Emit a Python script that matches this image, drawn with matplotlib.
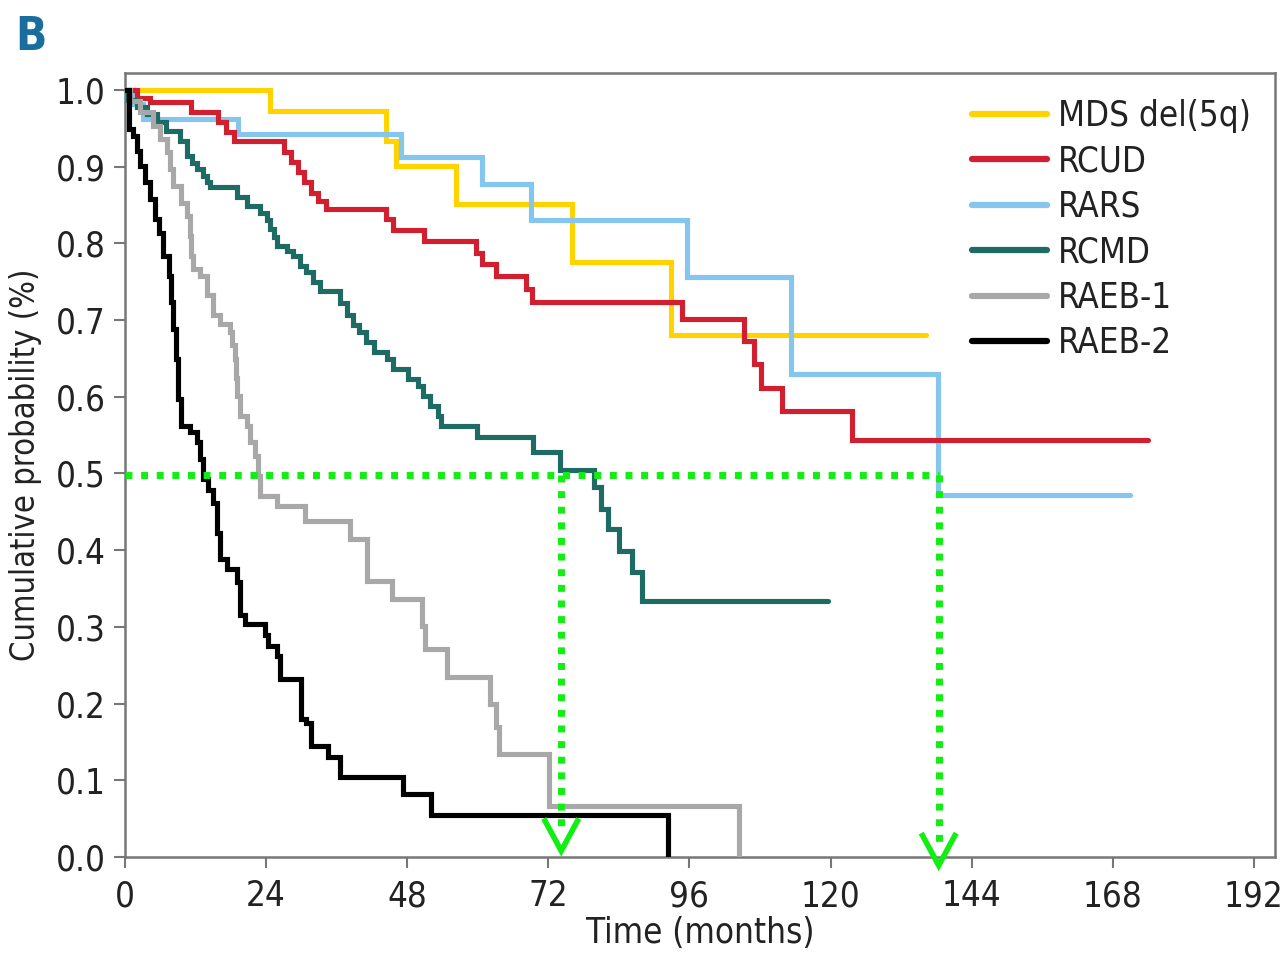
import matplotlib
matplotlib.use('Agg')
import matplotlib.pyplot as plt
from matplotlib import font_manager
from matplotlib.lines import Line2D

# pick a narrow sans if one is installed (the original uses a condensed face)
fonts = font_manager.fontManager.ttflist
names = {f.name for f in fonts}
if 'Liberation Sans Narrow' in names:
    plt.rcParams['font.family'] = ['Liberation Sans Narrow', 'DejaVu Sans']
elif any(f.name == 'DejaVu Sans' and f.stretch == 'condensed' for f in fonts):
    plt.rcParams['font.family'] = ['DejaVu Sans']
    plt.rcParams['font.stretch'] = 'condensed'
else:
    plt.rcParams['font.family'] = ['Liberation Sans', 'DejaVu Sans']

# Kaplan-Meier style step curves (time in months, cumulative probability)
mds_t = [0, 24.6, 44.4, 46.1, 56.3, 76.1, 92.8, 136.3]
mds_s = [1.0, 0.973, 0.934, 0.901, 0.851, 0.775, 0.680, 0.680]

rars_t = [0, 1.5, 3.0, 19.2, 47.0, 60.8, 69.0, 95.6, 113.3, 138.3, 170.9]
rars_s = [1.0, 0.981, 0.962, 0.943, 0.913, 0.877, 0.830, 0.756, 0.630, 0.472, 0.472]

rcud_t = [0, 2.0, 4.2, 11.3, 15.8, 17.2, 18.6, 27.0, 28.2, 29.4, 30.5, 31.6, 32.8,
          34.2, 44.4, 45.6, 50.9, 59.7, 60.8, 63.1, 68.2, 69.3, 94.8, 105.3, 107.0,
          108.1, 111.8, 123.7, 174.0]
rcud_s = [1.0, 0.99, 0.984, 0.971, 0.958, 0.945, 0.934, 0.919, 0.906, 0.893, 0.880,
          0.866, 0.855, 0.845, 0.832, 0.817, 0.803, 0.788, 0.773, 0.757, 0.740, 0.723,
          0.701, 0.672, 0.643, 0.612, 0.582, 0.544, 0.544]

rcmd_t = [0, 0.5, 2.0, 3.7, 5.4, 7.0, 9.3, 10.5, 11.4, 12.2, 13.2, 13.9, 14.4, 19.0,
          20.7, 22.9, 24.1, 24.6, 25.3, 25.8, 27.5, 28.6, 29.7, 30.8, 32.0, 33.1, 36.5,
          37.8, 38.8, 39.8, 41.0, 42.4, 44.5, 45.6, 48.1, 49.8, 50.7, 51.9, 53.3, 53.8,
          59.8, 69.4, 74.0, 79.8, 80.9, 82.1, 84.0, 86.3, 88.0, 119.5]
rcmd_s = [1.0, 0.987, 0.978, 0.968, 0.958, 0.947, 0.933, 0.914, 0.905, 0.897, 0.888,
          0.880, 0.873, 0.860, 0.849, 0.840, 0.830, 0.819, 0.808, 0.797, 0.790, 0.784,
          0.771, 0.762, 0.749, 0.738, 0.722, 0.706, 0.693, 0.684, 0.671, 0.658, 0.649,
          0.636, 0.623, 0.614, 0.601, 0.588, 0.575, 0.562, 0.547, 0.528, 0.504, 0.482,
          0.454, 0.428, 0.399, 0.371, 0.334, 0.334]

raeb1_t = [0, 0.8, 2.5, 4.8, 5.9, 7.1, 7.6, 8.2, 9.6, 10.5, 11.0, 11.3, 11.6, 12.7,
           13.9, 15.0, 16.1, 17.8, 18.2, 18.7, 18.9, 19.0, 19.5, 20.7, 21.2, 22.1, 22.6,
           22.9, 25.8, 30.6, 38.2, 41.1, 45.4, 50.6, 51.0, 54.8, 62.0, 63.1, 63.6, 72.2,
           104.4]
raeb1_s = [1.0, 0.985, 0.971, 0.953, 0.936, 0.919, 0.897, 0.875, 0.853, 0.836, 0.810,
           0.784, 0.767, 0.758, 0.732, 0.706, 0.695, 0.684, 0.667, 0.649, 0.625, 0.601,
           0.575, 0.562, 0.541, 0.523, 0.497, 0.471, 0.458, 0.438, 0.415, 0.360, 0.336,
           0.301, 0.271, 0.234, 0.200, 0.169, 0.134, 0.067, 0.0]

raeb2_t = [0, 0.6, 1.4, 2.0, 2.5, 3.4, 4.2, 5.1, 5.7, 6.5, 7.4, 7.9, 8.2, 8.6, 9.0,
           9.6, 11.0, 12.2, 12.7, 13.3, 14.1, 15.0, 15.6, 16.1, 17.3, 19.0, 19.5, 20.4,
           23.8, 24.3, 25.8, 26.3, 30.0, 30.8, 31.7, 34.5, 36.5, 47.3, 52.1, 92.3]
raeb2_s = [1.0, 0.949, 0.940, 0.920, 0.901, 0.880, 0.858, 0.832, 0.814, 0.784, 0.758,
           0.723, 0.688, 0.649, 0.597, 0.562, 0.554, 0.541, 0.519, 0.493, 0.478, 0.462,
           0.423, 0.389, 0.375, 0.358, 0.315, 0.304, 0.289, 0.275, 0.262, 0.232, 0.180,
           0.175, 0.145, 0.130, 0.104, 0.082, 0.055, 0.0]

labels = ['MDS del(5q)', 'RCUD', 'RARS', 'RCMD', 'RAEB-1', 'RAEB-2']
colors = ['#FFD200', '#D21F30', '#84C6EE', '#1E6B63', '#A8A8A8', '#000000']

# median survival markers
median_level = 0.498
median_times = [74.2, 138.4]
green = '#11EE11'

fig = plt.figure(figsize=(12.87, 9.59), dpi=100)
ax = fig.add_axes([125 / 1287, 102 / 959, 1150 / 1287, 784 / 959])

curves = [(mds_t, mds_s, 0), (rars_t, rars_s, 2), (rcud_t, rcud_s, 1),
          (rcmd_t, rcmd_s, 3), (raeb1_t, raeb1_s, 4), (raeb2_t, raeb2_s, 5)]
for t, s, i in curves:
    ax.step(t, s, where='post', color=colors[i], lw=3.7, solid_capstyle='round',
            solid_joinstyle='miter', zorder=3)

# dotted guide lines + arrow heads
ax.plot([0, median_times[1]], [median_level, median_level], color=green, lw=5,
        linestyle=(0, (1, 1.25)), zorder=5)
tips = [0.008, -0.011]
for mt, tip in zip(median_times, tips):
    ax.plot([mt, mt], [median_level, tip + 0.03], color=green, lw=5,
            linestyle=(0, (1, 1.25)), zorder=5, clip_on=False)
    ax.plot([mt - 2.75, mt, mt + 2.75], [tip + 0.039, tip, tip + 0.039], color=green,
            lw=4, solid_joinstyle='miter', zorder=6, clip_on=False)

ax.set_xlim(0, 195.6)
ax.set_ylim(0, 1.022)
ax.set_xticks(range(0, 193, 24))
ax.set_yticks([i / 10 for i in range(11)])
ax.set_yticklabels([f'{i / 10:.1f}' for i in range(11)])
ax.tick_params(direction='out', length=8, width=1.5, color='#777777',
               labelsize=25, labelcolor='#222222')
ax.tick_params(axis='x', pad=8)
ax.tick_params(axis='y', pad=6)
for sp in ax.spines.values():
    sp.set_color('#777777')
    sp.set_linewidth(1.8)

ax.set_xlabel('Time (months)', fontsize=25, color='#222222', labelpad=2)
ax.set_ylabel('Cumulative probability (%)', fontsize=23.5, color='#222222', labelpad=10)

handles = [Line2D([], [], color=c, lw=4.5, solid_capstyle='round') for c in colors]
ax.legend(handles, labels, loc='upper left',
          bbox_to_anchor=((972 - 125) / 1150, (857 - 99) / 784),
          borderpad=0, borderaxespad=0, frameon=False, fontsize=25,
          handlelength=2.15, handletextpad=0.32, labelspacing=0.33,
          labelcolor='#222222')

fig.text(0.012, 0.948, 'B', fontsize=33, fontweight='bold', color='#1A6E9E')

fig.savefig('out.png', dpi=100)
